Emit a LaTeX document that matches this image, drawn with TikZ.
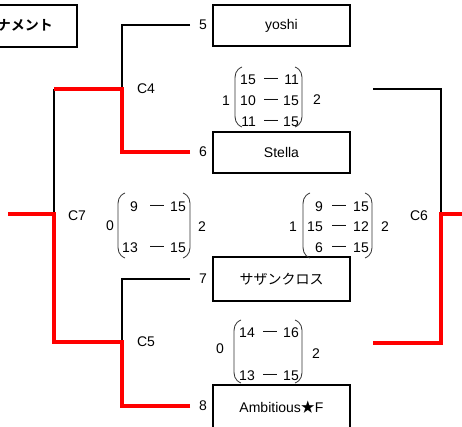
\documentclass[tikz,border=0pt]{standalone}
\usepackage{fontspec}
\setmainfont{Liberation Sans}
\newfontfamily\cjk{Noto Sans CJK JP}
\newfontfamily\cjkb{Noto Sans CJK JP Bold}
\begin{document}
\begin{tikzpicture}[x=1pt,y=-1pt,
  font=\fontsize{14}{16}\selectfont,
  team/.style={draw,line width=2pt,minimum width=137pt,inner sep=0pt},
  lbl/.style={inner sep=0pt},
  wline/.style={line width=2pt,black},
  rline/.style={line width=4pt,red},
  paren/.style={line width=0.8pt,black!80}]
\useasboundingbox (0,0) rectangle (462,427);
\clip (0,0) rectangle (462,427);

% title
\node[team,minimum width=87pt,minimum height=42pt] (titlebox) at (33.5,26) {};
\node[lbl,anchor=east] (title) at (53,25) {\cjkb ナメント};

% team boxes
\node[team,minimum height=41pt] (yoshi) at (281.5,25.5) {yoshi};
\node[team,minimum height=41pt] (stella) at (281.5,152.5) {Stella};
\node[team,minimum height=44pt] (south) at (281.5,279) {\cjk サザンクロス};
\node[team,minimum height=45pt] (ambi) at (281.5,407.5) {Ambitious{\cjk ★}F};

% seeds
\node[lbl] (n5) at (203,25) {5};
\node[lbl] (n6) at (203,152) {6};
\node[lbl] (n7) at (203,279) {7};
\node[lbl] (n8) at (203,406) {8};

% match labels
\node[lbl] (c4) at (146,89) {C4};
\node[lbl] (c5) at (146,342) {C5};
\node[lbl] (c7) at (77,216) {C7};
\node[lbl] (c6) at (419,216) {C6};

% joints
\coordinate (e5) at (190,25);
\coordinate (e6) at (190,152);
\coordinate (e7) at (190,279);
\coordinate (e8) at (190,406);
\coordinate (j4) at (122,89);
\coordinate (j5) at (122,342);
\coordinate (j7a) at (54,89);
\coordinate (j7b) at (54,342);
\coordinate (j7) at (54,214);
\coordinate (w7) at (8,214);
\coordinate (r4) at (373,89);
\coordinate (r5) at (373,343);
\coordinate (j6a) at (441,89);
\coordinate (j6b) at (441,343);
\coordinate (j6) at (441,214);
\coordinate (w6) at (463,214);

% black brackets
\draw[wline] (e5) -| (j4);
\draw[wline] (e7) -| (j5);
\draw[wline] (j7a) -- (j7);
\draw[wline] (r4) -| (j6);
% red winner paths
\draw[rline] (e6) -| (j4) -- (j7a);
\draw[rline] (e8) -| (j5) -- (j7b) -- (j7) -- (w7);
\draw[rline] (r5) -| (j6) -- (w6);

% C4 matrix
\node[lbl,anchor=east] (m4a1) at (256,80) {15};
\node[lbl] (m4a2) at (271,80) {—};
\node[lbl,anchor=east] (m4a3) at (299,80) {11};
\node[lbl,anchor=east] (m4b1) at (256,101) {10};
\node[lbl] (m4b2) at (271,101) {—};
\node[lbl,anchor=east] (m4b3) at (299,101) {15};
\node[lbl,anchor=east] (m4c1) at (256,122) {11};
\node[lbl] (m4c2) at (271,122) {—};
\node[lbl,anchor=east] (m4c3) at (299,122) {15};
\node[lbl] (m4l) at (226,101) {1};
\node[lbl] (m4r) at (317,100) {2};
\draw[paren] (242,67) .. controls (235,70) and (235,75) .. (235,81) -- (235,113) .. controls (235,119) and (235,124) .. (242,127);
\draw[paren] (295,67) .. controls (302,70) and (302,75) .. (302,81) -- (302,113) .. controls (302,119) and (302,124) .. (295,127);

% C7 matrix
\node[lbl,anchor=east] (m7a1) at (138,207) {9};
\node[lbl] (m7a2) at (157,207) {—};
\node[lbl,anchor=east] (m7a3) at (186,207) {15};
\node[lbl,anchor=east] (m7b1) at (138,248) {13};
\node[lbl] (m7b2) at (157,248) {—};
\node[lbl,anchor=east] (m7b3) at (186,248) {15};
\node[lbl] (m7l) at (110,226) {0};
\node[lbl] (m7r) at (202,227) {2};
\draw[paren] (125,193) .. controls (118,196) and (118,201) .. (118,207) -- (118,244) .. controls (118,250) and (118,255) .. (125,258);
\draw[paren] (183,193) .. controls (190,196) and (190,201) .. (190,207) -- (190,244) .. controls (190,250) and (190,255) .. (183,258);

% C6 matrix
\node[lbl,anchor=east] (m6a1) at (323,207) {9};
\node[lbl] (m6a2) at (339,207) {—};
\node[lbl,anchor=east] (m6a3) at (369,207) {15};
\node[lbl,anchor=east] (m6b1) at (323,227) {15};
\node[lbl] (m6b2) at (339,227) {—};
\node[lbl,anchor=east] (m6b3) at (369,227) {12};
\node[lbl,anchor=east] (m6c1) at (323,248) {6};
\node[lbl] (m6c2) at (339,248) {—};
\node[lbl,anchor=east] (m6c3) at (369,248) {15};
\node[lbl] (m6l) at (293,227) {1};
\node[lbl] (m6r) at (385,227) {2};
\draw[paren] (310,193) .. controls (303,196) and (303,201) .. (303,207) -- (303,244) .. controls (303,250) and (303,255) .. (310,258);
\draw[paren] (365,193) .. controls (372,196) and (372,201) .. (372,207) -- (372,244) .. controls (372,250) and (372,255) .. (365,258);

% C5 matrix
\node[lbl,anchor=east] (m5a1) at (255,333) {14};
\node[lbl] (m5a2) at (270,333) {—};
\node[lbl,anchor=east] (m5a3) at (299,333) {16};
\node[lbl,anchor=east] (m5b1) at (255,376) {13};
\node[lbl] (m5b2) at (270,376) {—};
\node[lbl,anchor=east] (m5b3) at (299,376) {15};
\node[lbl] (m5l) at (220,349) {0};
\node[lbl] (m5r) at (316,354) {2};
\draw[paren] (241,320) .. controls (234,323) and (234,328) .. (234,334) -- (234,369) .. controls (234,375) and (234,380) .. (241,383);
\draw[paren] (295,320) .. controls (302,323) and (302,328) .. (302,334) -- (302,369) .. controls (302,375) and (302,380) .. (295,383);
\end{tikzpicture}
\end{document}
